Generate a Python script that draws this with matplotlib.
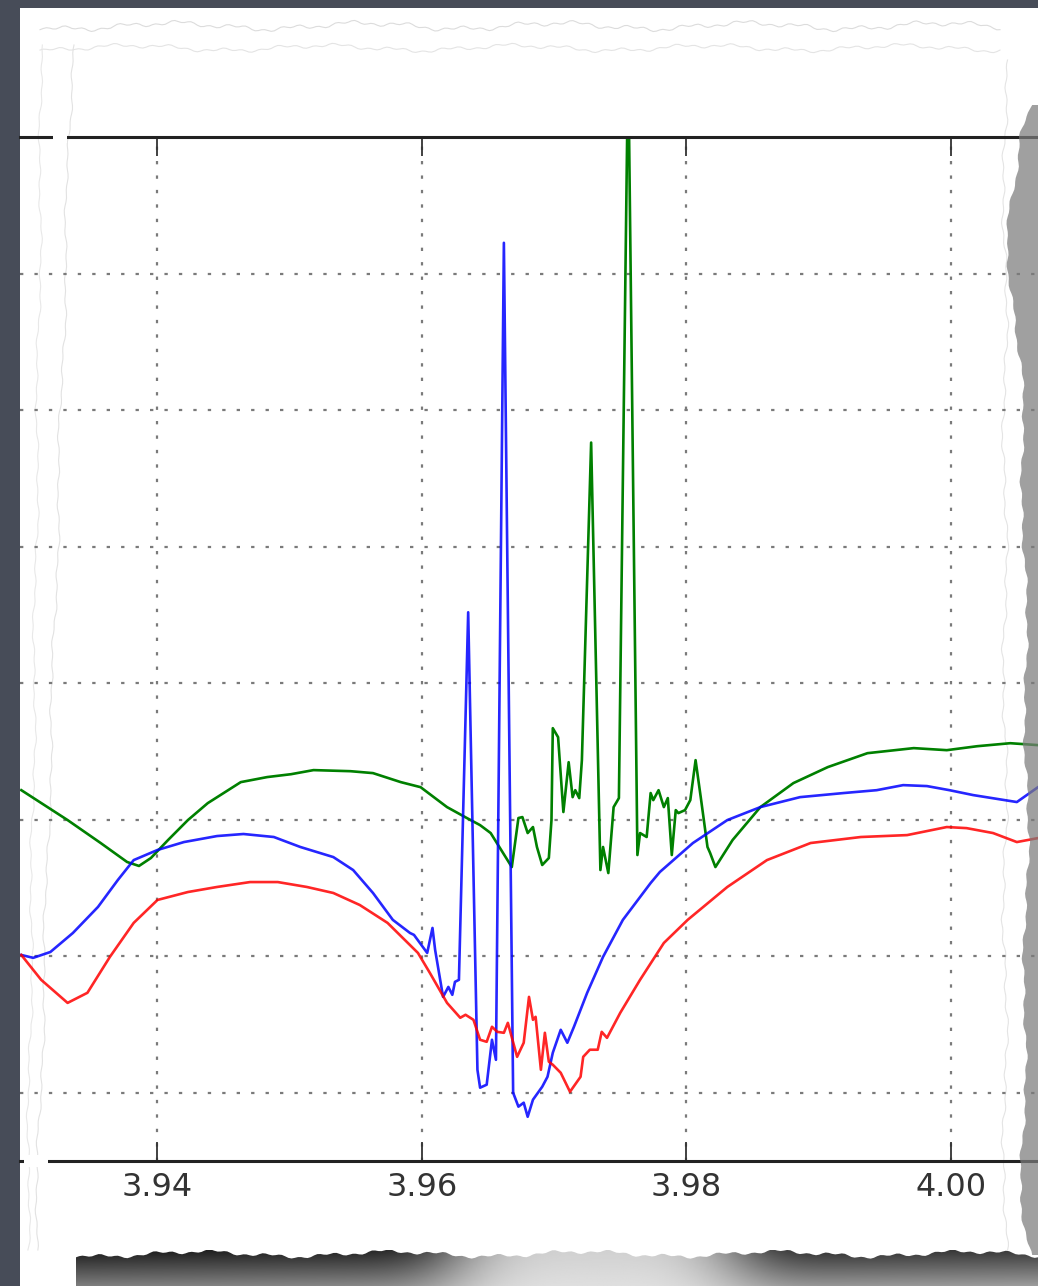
import numpy as np
import matplotlib
matplotlib.use("Agg")
import matplotlib.pyplot as plt
from matplotlib.patches import Polygon, Rectangle

# ---- spectra: wavelength (micron) and normalised flux ----
wl_green = [3.9297, 3.9332, 3.9357, 3.9377, 3.9386, 3.9395, 3.9408, 3.9423, 3.9438,
            3.9463, 3.9483, 3.9501, 3.9518, 3.9546, 3.9563, 3.9584, 3.9599, 3.9619,
            3.9634, 3.9644, 3.9652, 3.9668, 3.9673, 3.9676, 3.9680, 3.9684, 3.9687,
            3.9691, 3.9696, 3.9698, 3.9699, 3.9703, 3.9707, 3.9711, 3.9714, 3.9716,
            3.9719, 3.9721, 3.9728, 3.9735, 3.9737, 3.9741, 3.9745, 3.9749, 3.9756,
            3.9763, 3.9765, 3.9770, 3.9773, 3.9775, 3.9779, 3.9783, 3.9786, 3.9789,
            3.9792, 3.9794, 3.9799, 3.9803, 3.9807, 3.9811, 3.9816, 3.9818, 3.9822,
            3.9835, 3.9856, 3.9881, 3.9907, 3.9937, 3.9972, 3.9997, 4.0020, 4.0045,
            4.0066]
flux_green = [0.6216, 0.5997, 0.5829, 0.5690, 0.5661, 0.5719, 0.5851, 0.5997, 0.6121,
              0.6275, 0.6312, 0.6333, 0.6363, 0.6355, 0.6341, 0.6275, 0.6238, 0.6092,
              0.6012, 0.5960, 0.5902, 0.5653, 0.6012, 0.6019, 0.5902, 0.5946, 0.5800,
              0.5668, 0.5719, 0.5997, 0.6670, 0.6604, 0.6056, 0.6421, 0.6165, 0.6216,
              0.6158, 0.6436, 0.8762, 0.5631, 0.5800, 0.5609, 0.6092, 0.6158, 1.1600,
              0.5741, 0.5902, 0.5873, 0.6195, 0.6143, 0.6216, 0.6092, 0.6158, 0.5741,
              0.6070, 0.6048, 0.6070, 0.6143, 0.6436, 0.6158, 0.5800, 0.5756, 0.5653,
              0.5851, 0.6092, 0.6268, 0.6385, 0.6487, 0.6524, 0.6509, 0.6538, 0.6560,
              0.6546]

wl_blue = [3.9297, 3.9306, 3.9319, 3.9336, 3.9355, 3.9370, 3.9382, 3.9400, 3.9420,
           3.9445, 3.9465, 3.9488, 3.9508, 3.9533, 3.9548, 3.9563, 3.9578, 3.9591,
           3.9594, 3.9604, 3.9608, 3.9610, 3.9616, 3.9620, 3.9623, 3.9625, 3.9628,
           3.9635, 3.9642, 3.9644, 3.9649, 3.9653, 3.9656, 3.9662, 3.9669, 3.9673,
           3.9677, 3.9680, 3.9684, 3.9691, 3.9695, 3.9699, 3.9705, 3.9710, 3.9715,
           3.9725, 3.9737, 3.9752, 3.9773, 3.9780, 3.9805, 3.9831, 3.9856, 3.9886,
           3.9919, 3.9944, 3.9964, 3.9982, 3.9999, 4.0017, 4.0050, 4.0066]
flux_blue = [0.5009, 0.4988, 0.5031, 0.5170, 0.5361, 0.5558, 0.5704, 0.5778, 0.5836,
             0.5880, 0.5895, 0.5873, 0.5800, 0.5726, 0.5631, 0.5463, 0.5266, 0.5170,
             0.5156, 0.5024, 0.5207, 0.5046, 0.4702, 0.4775, 0.4717, 0.4812, 0.4827,
             0.7519, 0.4168, 0.4037, 0.4059, 0.4388, 0.4241, 1.0225, 0.4000, 0.3898,
             0.3927, 0.3824, 0.3949, 0.4044, 0.4117, 0.4293, 0.4461, 0.4366, 0.4483,
             0.4732, 0.4995, 0.5266, 0.5536, 0.5617, 0.5829, 0.5997, 0.6092, 0.6165,
             0.6195, 0.6216, 0.6253, 0.6246, 0.6216, 0.6180, 0.6129, 0.6238]

wl_red = [3.9297, 3.9312, 3.9332, 3.9347, 3.9364, 3.9382, 3.9400, 3.9423, 3.9445,
          3.9470, 3.9491, 3.9513, 3.9533, 3.9553, 3.9574, 3.9597, 3.9606, 3.9619,
          3.9629, 3.9633, 3.9639, 3.9644, 3.9649, 3.9653, 3.9657, 3.9662, 3.9665,
          3.9672, 3.9677, 3.9681, 3.9684, 3.9686, 3.9690, 3.9693, 3.9696, 3.9699,
          3.9705, 3.9712, 3.9720, 3.9722, 3.9727, 3.9733, 3.9736, 3.9740, 3.9750,
          3.9765, 3.9783, 3.9801, 3.9831, 3.9861, 3.9894, 3.9932, 3.9967, 3.9997,
          4.0012, 4.0032, 4.0050, 4.0066]
flux_red = [0.5009, 0.4827, 0.4658, 0.4732, 0.4995, 0.5244, 0.5412, 0.5470, 0.5507,
            0.5543, 0.5543, 0.5507, 0.5463, 0.5375, 0.5244, 0.5024, 0.4878, 0.4658,
            0.4549, 0.4571, 0.4534, 0.4388, 0.4373, 0.4483, 0.4446, 0.4439, 0.4512,
            0.4263, 0.4366, 0.4702, 0.4534, 0.4556, 0.4168, 0.4439, 0.4227, 0.4205,
            0.4146, 0.4007, 0.4117, 0.4263, 0.4315, 0.4315, 0.4446, 0.4402, 0.4585,
            0.4827, 0.5097, 0.5266, 0.5507, 0.5704, 0.5829, 0.5873, 0.5887, 0.5946,
            0.5938, 0.5902, 0.5836, 0.5865]

xticks = [3.94, 3.96, 3.98, 4.00]
xticklabels = ["3.94", "3.96", "3.98", "4.00"]
yticks = [0.4, 0.5, 0.6, 0.7, 0.8, 0.9, 1.0, 1.1]

W, H = 1038, 1286
fig = plt.figure(figsize=(W / 100, H / 100), dpi=100, facecolor="#474c58")


def ragged(n, amp, phase=0.0):
    """Smooth irregular offsets for a torn paper edge."""
    t = np.linspace(0, 1, n)
    return amp * (0.5 * np.sin(2 * np.pi * 5 * t + phase)
                  + 0.3 * np.sin(2 * np.pi * 17 * t + 1.3 + phase)
                  + 0.2 * np.sin(2 * np.pi * 53 * t + 2.1 + phase))


# ---- background sheet (pixel coordinates) ----
bg = fig.add_axes([0, 0, 1, 1], zorder=0)
bg.set_xlim(0, W)
bg.set_ylim(H, 0)
bg.axis("off")
bg.add_patch(Rectangle((20, 8), W - 20, H - 8, facecolor="white", edgecolor="none"))

# faint tear outlines along the top and the left
xs = np.linspace(40, 1000, 300)
bg.plot(xs, 26 + ragged(300, 6, 0.4), color="#dcdcdc", lw=0.8)
bg.plot(xs, 48 + ragged(300, 5, 1.7), color="#e4e4e4", lw=0.8)
ys = np.linspace(45, 1250, 300)
bg.plot(72 - (ys - 45) * 0.03 + ragged(300, 3, 0.8), ys, color="#e2e2e2", lw=0.8)
bg.plot(42 - (ys - 45) * 0.012 + ragged(300, 3, 2.2), ys, color="#e8e8e8", lw=0.8)
bg.plot(1005 + ragged(300, 4, 1.1), np.linspace(60, 1250, 300), color="#e4e4e4", lw=0.8)

# ---- main axes ----
ax = fig.add_axes([20 / W, (H - 1161) / H, (W - 20) / W, (1161 - 137) / H], zorder=2)
ax.set_facecolor("none")
ax.set_xlim(3.9296, 4.0066)
ax.set_ylim(0.35, 1.1)

ax.plot(wl_green, flux_green, color="#008000", lw=1.9)
ax.plot(wl_blue, flux_blue, color="#0000ff", lw=1.9, alpha=0.85)
ax.plot(wl_red, flux_red, color="#ff0000", lw=1.9, alpha=0.85)

ax.set_xticks(xticks)
ax.set_xticklabels(xticklabels)
ax.set_yticks(yticks)
ax.tick_params(axis="x", direction="in", top=True, bottom=True, length=14, width=1.3,
               color="#333333", labelsize=23, labelcolor="#333333", pad=8)
ax.tick_params(axis="y", left=False, right=False, labelleft=False)
ax.grid(True, color="#7a7a7a", linestyle=(0, (1.5, 5)), lw=1.6)
for side in ("left", "right"):
    ax.spines[side].set_visible(False)
for side in ("top", "bottom"):
    ax.spines[side].set_linewidth(2.2)
    ax.spines[side].set_color("#222222")

# ---- overlay: torn edges and shadows ----
ov = fig.add_axes([0, 0, 1, 1], zorder=5)
ov.set_xlim(0, W)
ov.set_ylim(H, 0)
ov.axis("off")
ov.patch.set_alpha(0)

# small breaks in the frame where the sheet is torn
ov.add_patch(Rectangle((53, 131), 14, 12, facecolor="white", edgecolor="none"))
ov.add_patch(Rectangle((24, 1155), 24, 12, facecolor="white", edgecolor="none"))

# shadow along the right edge
ry = np.linspace(105, 1255, 300)
rl = np.interp(ry, [105, 130, 230, 400, 600, 800, 1000, 1200, 1255],
               [1030, 1020, 1007, 1022, 1025, 1027, 1025, 1022, 1030]) + ragged(300, 4, 0.2)
right_poly = Polygon(np.column_stack([np.r_[rl, np.full(300, W + 2.0)], np.r_[ry, ry[::-1]]]),
                     facecolor="#7c7c7c", edgecolor="none", alpha=0.72)
ov.add_patch(right_poly)

# shadow under the bottom edge
bx = np.linspace(76, W, 300)
btop = 1254 + ragged(300, 5, 0.7)
bottom_poly = Polygon(np.column_stack([np.r_[bx, bx[::-1]], np.r_[btop, np.full(300, H + 2)]]),
                      facecolor="none", edgecolor="none")
ov.add_patch(bottom_poly)
u = np.linspace(0, 1, 400)
v = np.linspace(0, 1, 40)[:, None]
dark = 1 - 0.85 * np.exp(-((u - 0.54) / 0.16) ** 4)
shade = 0.93 - dark * (0.70 * (1 - v) + 0.30 * v) - 0.12 * (1 - u) * dark
im_b = ov.imshow(shade, cmap="gray", vmin=0, vmax=1, extent=(76, W, H + 2, 1250),
                 aspect="auto", interpolation="bilinear")
im_b.set_clip_path(bottom_poly)

fig.savefig("out.png", dpi=100, facecolor=fig.get_facecolor())
